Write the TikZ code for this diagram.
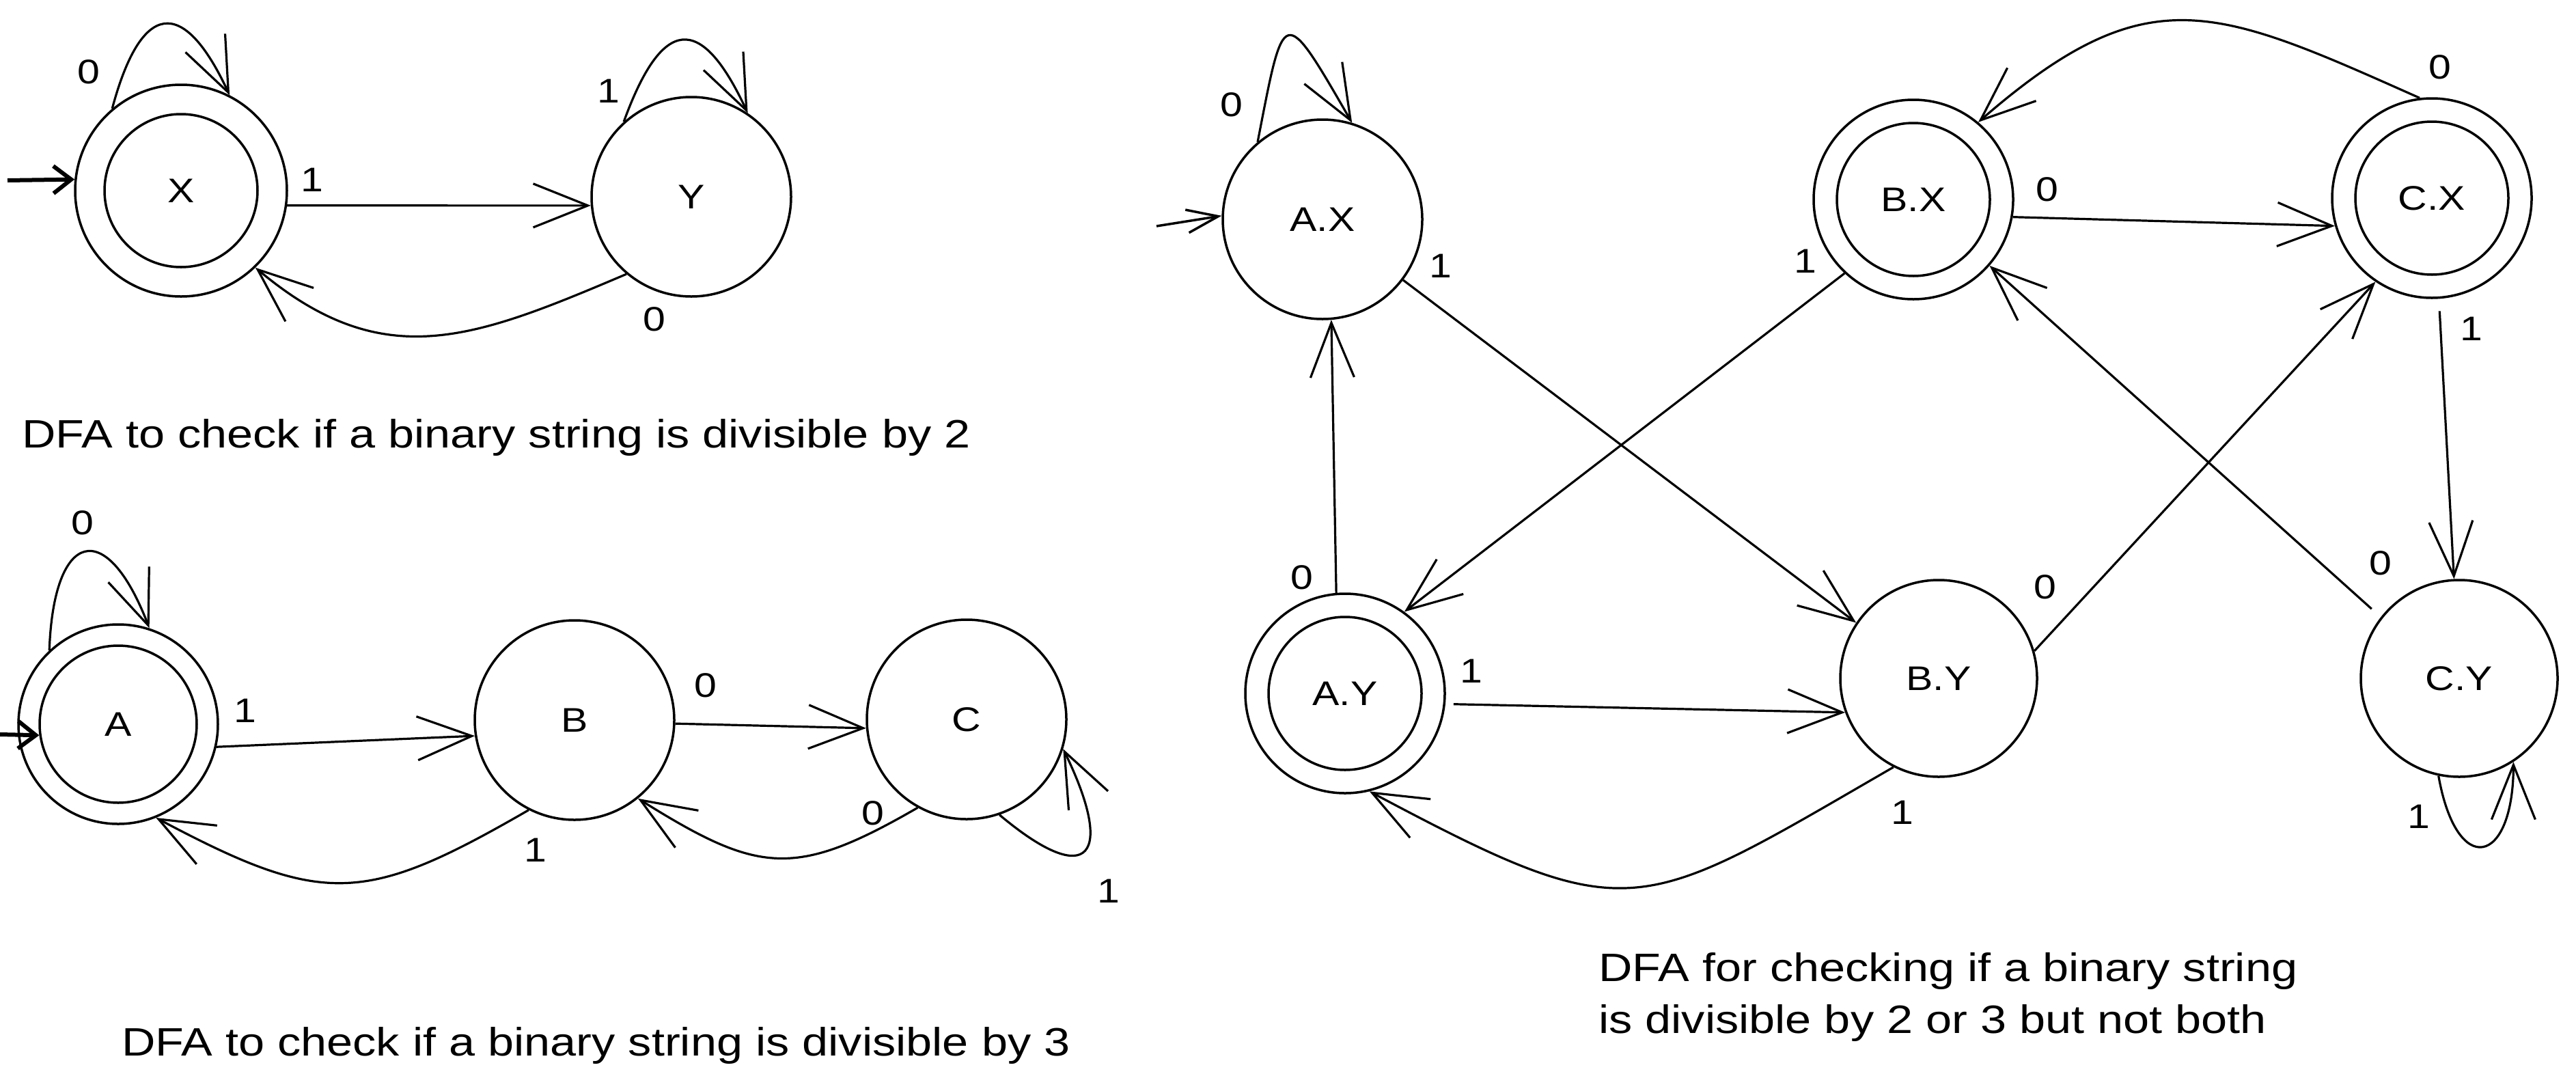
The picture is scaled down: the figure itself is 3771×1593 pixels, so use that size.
\documentclass[tikz,border=0pt]{standalone}
\usepackage{fontspec}
\setmainfont{Liberation Sans}
\newfontfamily\handfont[FakeStretch=1.18]{Liberation Sans}
\usetikzlibrary{arrows.meta}
\newcommand\lblfont{\handfont\fontsize{50}{60}\selectfont}
\newcommand\capfont{\handfont\fontsize{58}{70}\selectfont}
\begin{document}
\begin{tikzpicture}[x=1pt,y=-1pt,
  stnode/.style={circle,draw,line width=3.5pt,inner sep=0pt,minimum size=292pt,font=\lblfont},
  innode/.style={circle,draw,line width=3.5pt,inner sep=0pt,minimum size=224pt,font=\lblfont},
  edge/.style={line width=3.2pt,-{Straight Barb[length=80pt,width=64pt]}},
  startarr/.style={line width=6pt,-{Straight Barb[length=26pt,width=40pt]}},
  startarrb/.style={line width=3.5pt,-{Straight Barb[length=46pt,width=34pt]}},
  elabel/.style={font=\lblfont,inner sep=0pt},
  caption/.style={font=\capfont,anchor=base west,inner sep=0pt}]
\fill[white] (0,0) rectangle (3771,1593);
\useasboundingbox (0,0) rectangle (3771,1593);

% ---------- DFA divisible by 2 ----------
\node[stnode,minimum size=310pt] (X) at (265,279) {};
\node[innode] (Xi) at (X) {X};
\node[stnode] (Y) at (1012,288) {Y};
\coordinate (sX) at (11,264);
\draw[startarr] (sX) -- (X.174);
\draw[edge] (X.130) to[out=75,in=115,looseness=2.4] (X.63);
\draw[edge] (X.-8) -- (Y.-175);
\draw[edge] (Y.132) to[out=70,in=115,looseness=2.3] (Y.56);
\draw[edge] (Y.-130) to[out=-157,in=-40,looseness=1.15] (X.-46);
\node[elabel] (lx0) at (130,105) {0};
\node[elabel] (lxy) at (457,263) {1};
\node[elabel] (ly1) at (891,133) {1};
\node[elabel] (lyx) at (958,467) {0};
\node[caption] (cap1) at (32,655) {DFA to check if a binary string is divisible by 2};

% ---------- DFA divisible by 3 ----------
\node[stnode] (A) at (173,1060) {};
\node[innode,minimum size=230pt] (Ai) at (A) {A};
\node[stnode] (B) at (841,1054) {B};
\node[stnode] (C) at (1415,1053) {C};
\coordinate (sA) at (0,1075);
\draw[startarr] (sA) -- (Ai.-172);
\draw[edge] (A.133) to[out=88,in=111,looseness=3] (A.72);
\draw[edge] (A.-13) -- (B.-171);
\draw[edge] (B.-117) to[out=-150,in=-28,looseness=1.3] (A.-68);
\draw[edge] (B.-2) -- (C.-175);
\draw[edge] (C.-119) to[out=-150,in=-32,looseness=1.3] (B.-51);
\draw[edge] (C.-71) to[out=-40,in=-64,looseness=3.3] (C.-17);
\node[elabel] (la0) at (121,765) {0};
\node[elabel] (lab) at (359,1040) {1};
\node[elabel] (lba) at (784,1244) {1};
\node[elabel] (lbc) at (1033,1003) {0};
\node[elabel] (lcb) at (1278,1190) {0};
\node[elabel] (lc1) at (1623,1304) {1};
\node[caption] (cap2) at (178,1545) {DFA to check if a binary string is divisible by 3};

% ---------- product DFA ----------
\node[stnode] (AX) at (1936,321) {A.X};
\node[stnode] (BX) at (2801,292) {};
\node[innode] (BXi) at (BX) {B.X};
\node[stnode] (CX) at (3560,290) {};
\node[innode] (CXi) at (CX) {C.X};
\node[stnode] (AY) at (1969,1015) {};
\node[innode] (AYi) at (AY) {A.Y};
\node[stnode,minimum size=288pt] (BY) at (2838,993) {B.Y};
\node[stnode,minimum size=288pt] (CY) at (3600,993) {C.Y};
\coordinate (sAX) at (1693,331);
\draw[startarrb] (sAX) -- (AX.178);
\draw[edge] (AX.130) to[out=79,in=120,looseness=3.7] (AX.73);
\draw[edge] (AX.-37) -- (BY.146);
\draw[edge] (BX.-133) -- (AY.54);
\draw[edge] (AY.95) -- (AX.-85);
\draw[edge,shorten <=12pt] (AY.-6) -- (BY.-160);
\draw[edge] (BY.-117) to[out=-150,in=-28,looseness=1.45] (AY.-76);
\draw[edge] (BX.-10) -- (CX.-164);
\draw[edge] (CX.97) to[out=156,in=41,looseness=1.3] (BX.50);
\draw[edge,shorten <=18pt] (CX.-86) -- (CY.93);
\draw[edge,shorten <=18pt] (CY.142) -- (BX.-41);
\draw[edge] (BY.16) -- (CX.-124);
\draw[edge] (CY.-102) to[out=-80,in=-90,looseness=3.5] (CY.-57);
\node[elabel] (lax0) at (1803,153) {0};
\node[elabel] (laxby) at (2109,389) {1};
\node[elabel] (lbxay) at (2643,382) {1};
\node[elabel] (layax) at (1906,845) {0};
\node[elabel] (layby) at (2154,982) {1};
\node[elabel] (lbyay) at (2785,1189) {1};
\node[elabel] (lbxcx) at (2997,277) {0};
\node[elabel] (lcxbx) at (3572,98) {0};
\node[elabel] (lcxcy) at (3618,481) {1};
\node[elabel] (lcybx) at (3485,824) {0};
\node[elabel] (lbycx) at (2994,859) {0};
\node[elabel] (lcy1) at (3541,1195) {1};
\node[caption] (cap3a) at (2340,1436) {DFA for checking if a binary string};
\node[caption] (cap3b) at (2340,1512) {is divisible by 2 or 3 but not both};
\end{tikzpicture}
\end{document}
